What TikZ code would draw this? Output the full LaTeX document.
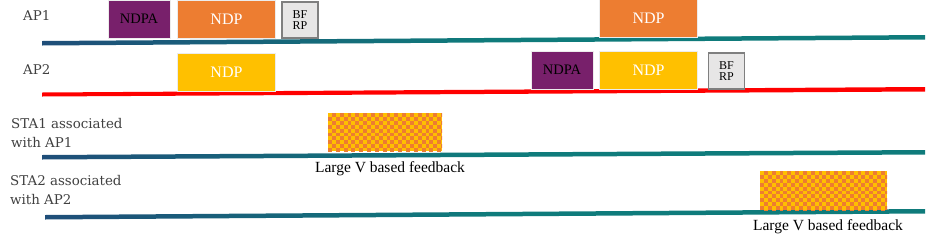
\documentclass[tikz,border=0pt]{standalone}
\usepackage{fontspec}
\setmainfont{Liberation Serif}
\newfontfamily\labfont{DejaVu Serif}
\definecolor{navy}{HTML}{1F4E79}
\definecolor{teal2}{HTML}{0F7B7B}
\definecolor{ndpapurple}{HTML}{78206B}
\definecolor{ndporange}{HTML}{ED7D31}
\definecolor{ndpyellow}{HTML}{FFC000}
\definecolor{bfgray}{HTML}{E7E6E6}
\definecolor{bfborder}{HTML}{7F7F7F}
\definecolor{labgray}{HTML}{404040}
\pgfdeclarehorizontalshading{apline}{100bp}{color(0bp)=(navy); color(25bp)=(navy); color(50bp)=(teal2); color(100bp)=(teal2)}
\newcommand\chkbox[4]{%
  \fill[ndpyellow] (#1,#2) rectangle (#3,#4);
  \begin{scope}
    \clip (#1,#2) rectangle (#3,#4);
    \foreach \i in {0,...,33} {\foreach \j in {0,...,10} {%
      \ifodd\numexpr\i+\j\relax
        \fill[ndporange] ({#1+3.9*\i},{#2+3.9*\j}) rectangle ++(3.9,3.9);
      \fi}}
  \end{scope}}
\begin{document}
\begin{tikzpicture}[x=1pt,y=-1pt,
  box/.style={inner sep=0pt,draw=white!85!gray,line width=0.5pt},
  ndpabox/.style={box,fill=ndpapurple,minimum width=62pt,minimum height=38pt,font=\fontsize{14.5}{15}\selectfont,text=black},
  ndpobox/.style={box,fill=ndporange,minimum width=98pt,minimum height=38pt,font=\fontsize{16}{16}\selectfont,text=white},
  ndpybox/.style={box,fill=ndpyellow,minimum width=98pt,minimum height=38pt,font=\fontsize{16}{16}\selectfont,text=white},
  bfbox/.style={inner sep=0pt,fill=bfgray,draw=bfborder,line width=1.2pt,minimum width=36pt,minimum height=36pt,align=center,font=\fontsize{12}{11}\selectfont},
  lab/.style={anchor=west,align=left,text=labgray,font=\labfont\fontsize{13.4}{19.5}\selectfont,inner sep=0pt},
  fb/.style={font=\fontsize{15.5}{16}\selectfont,inner sep=0pt}]
\useasboundingbox (0,0) rectangle (930,242);
% timelines
\shade[shading=apline] (42,41) -- (925,35) -- (925,39.5) -- (42,45.5) -- cycle;
\fill[red] (42,92.5) -- (925,87) -- (925,91.5) -- (42,96.5) -- cycle;
\shade[shading=apline] (42,155) -- (925,150) -- (925,154.5) -- (42,159.5) -- cycle;
\shade[shading=apline] (45,215) -- (925,209) -- (925,213.5) -- (45,219.5) -- cycle;
% row labels
\node[lab] (lap1) at (23,16) {AP1};
\node[lab] (lap2) at (23,70) {AP2};
\node[lab] (lsta1) at (11,133) {STA1 associated\\with AP1};
\node[lab] (lsta2) at (10,190) {STA2 associated\\with AP2};
% AP1 frames
\node[ndpabox] (ap1ndpa) at (139,19) {NDPA};
\node[ndpobox] (ap1ndp) at (226.5,19) {NDP};
\node[bfbox] (ap1bf) at (300,20) {BF\\RP};
\node[ndpobox] (ap1ndp2) at (648.5,18.5) {NDP};
% AP2 frames
\node[ndpybox] (ap2ndp) at (226.5,72.5) {NDP};
\node[ndpabox] (ap2ndpa) at (562,70) {NDPA};
\node[ndpybox] (ap2ndp2) at (648.5,70.5) {NDP};
\node[bfbox] (ap2bf) at (726.5,71) {BF\\RP};
% feedback
\chkbox{328}{113}{442}{151}
\node[fb] (fb1) at (390,169) {Large V based feedback};
\chkbox{760}{171}{887}{210}
\node[fb] (fb2) at (828,227) {Large V based feedback};
\end{tikzpicture}
\end{document}
